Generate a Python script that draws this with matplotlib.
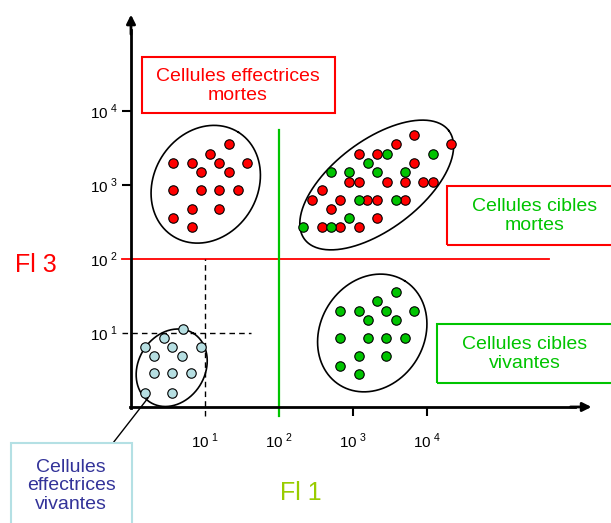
import numpy as np
import matplotlib
matplotlib.use('Agg')
import matplotlib.pyplot as plt
from matplotlib.patches import Rectangle

plt.rcParams['font.family'] = ['Liberation Sans', 'DejaVu Sans']
plt.rcParams['mathtext.fontset'] = 'custom'
plt.rcParams['mathtext.rm'] = 'Liberation Sans'

# --------------------------------------- DATA (log10 of Fl 1 / Fl 3) ---------------------------- #
# effectrices mortes (rouge, en haut a gauche)
eff_mortes_x = [1.32, 1.07, 0.57, 0.82, 1.19, 1.57, 0.95, 1.32, 0.57, 0.95, 1.19, 1.45, 0.82, 1.19, 0.57, 0.82]
eff_mortes_y = [3.55, 3.42, 3.30, 3.30, 3.30, 3.30, 3.18, 3.18, 2.93, 2.93, 2.93, 2.93, 2.68, 2.68, 2.56, 2.43]

# cibles vivantes (vert, en bas a droite)
cib_viv_x = [3.58, 3.33, 2.82, 3.08, 3.45, 3.83, 3.20, 3.58, 2.82, 3.20, 3.45, 3.70, 3.08, 3.45, 2.82, 3.08]
cib_viv_y = [1.55, 1.43, 1.30, 1.30, 1.30, 1.30, 1.18, 1.18, 0.93, 0.93, 0.93, 0.93, 0.69, 0.69, 0.56, 0.44]

# cibles mortes : melange rouge / vert (en haut a droite)
mix_red_x = [3.82, 4.33, 3.58, 3.08, 3.32, 3.82, 2.95, 3.08, 3.46, 3.70, 3.95, 4.08,
             2.58, 2.45, 2.82, 3.19, 3.33, 3.70, 2.70, 3.33, 2.58, 2.82, 3.08]
mix_red_y = [3.68, 3.55, 3.55, 3.42, 3.42, 3.30, 3.04, 3.04, 3.04, 3.04, 3.04, 3.04,
             2.93, 2.80, 2.80, 2.80, 2.80, 2.80, 2.68, 2.55, 2.43, 2.43, 2.43]
mix_green_x = [3.46, 4.08, 3.20, 2.70, 2.95, 3.33, 3.70, 3.08, 3.58, 2.95, 2.33, 2.70]
mix_green_y = [3.42, 3.42, 3.30, 3.17, 3.17, 3.17, 3.17, 2.80, 2.80, 2.55, 2.43, 2.43]

# effectrices vivantes (bleu clair, en bas a gauche)
eff_viv_x = [0.70, 0.44, 0.19, 0.56, 0.94, 0.31, 0.69, 0.31, 0.56, 0.81, 0.19, 0.56]
eff_viv_y = [1.06, 0.93, 0.81, 0.81, 0.81, 0.69, 0.69, 0.46, 0.46, 0.46, 0.19, 0.19]

tick_exp = [1, 2, 3, 4]
tick_labels = [r'$10^{\ %d}$' % e for e in tick_exp]

RED = '#ff0000'
GREEN = '#00c400'
LBLUE = '#b6dfe2'

# --------------------------------------- FIGURE ------------------------------------------------ #
W, H = 611, 523
fig = plt.figure(figsize=(W / 100, H / 100), dpi=100)
ax = fig.add_axes([0, 0, 1, 1])
ax.set_xscale('log')
ax.set_yscale('log')
ax.set_xlim(10 ** -1.77, 10 ** 6.486)
ax.set_ylim(10 ** -1.568, 10 ** 5.5)
ax.minorticks_off()


def px(x, y):
    # pixel position (from top left) -> figure fraction
    return x / W, 1 - y / H


def ellipse(cx, cy, a, b, ang):
    t = np.linspace(0, 2 * np.pi, 300)
    th = np.radians(ang)
    u = cx + a * np.cos(t) * np.cos(th) - b * np.sin(t) * np.sin(th)
    v = cy + a * np.cos(t) * np.sin(th) + b * np.sin(t) * np.cos(th)
    ax.plot(10 ** u, 10 ** v, color='black', lw=1.2, zorder=3)


# axes with arrows
for s in ['top', 'right']:
    ax.spines[s].set_visible(False)
ax.spines['left'].set_position(('data', 1))
ax.spines['bottom'].set_position(('data', 1))
ax.spines['left'].set_bounds(10 ** -0.015, 10 ** 5.1)
ax.spines['bottom'].set_bounds(10 ** -0.015, 10 ** 6.0)
ax.spines['left'].set_linewidth(2)
ax.spines['bottom'].set_linewidth(2)
ax.annotate('', xy=(1, 10 ** 5.34), xytext=(1, 10 ** 5.0),
            arrowprops=dict(arrowstyle='-|>', lw=2, color='black', mutation_scale=13))
ax.annotate('', xy=(10 ** 6.26, 1), xytext=(10 ** 5.9, 1),
            arrowprops=dict(arrowstyle='-|>', lw=2, color='black', mutation_scale=13))

ax.set_xticks([10.0 ** e for e in tick_exp])
ax.set_xticklabels(tick_labels)
ax.set_yticks([10.0 ** e for e in tick_exp])
ax.set_yticklabels(tick_labels)
ax.tick_params(axis='x', direction='out', length=6.5, width=1.5, pad=11, labelsize=11)
ax.tick_params(axis='y', direction='out', length=6.5, width=1.5, pad=3, labelsize=11)
for i in (0, 1):
    ax.xaxis.get_major_ticks()[i].tick1line.set_visible(False)
    ax.yaxis.get_major_ticks()[i].tick1line.set_visible(False)

# seuils
ax.plot([10 ** -0.12, 10 ** 5.65], [100, 100], color=RED, lw=1.3, zorder=2)
ax.plot([100, 100], [10 ** -0.12, 10 ** 3.74], color=GREEN, lw=1.6, zorder=2)
ax.plot([10 ** -0.12, 10 ** 1.62], [10, 10], color='black', lw=1, ls=(0, (4, 3)), zorder=2)
ax.plot([10, 10], [10 ** -0.12, 100], color='black', lw=1, ls=(0, (4, 3)), zorder=2)

# ellipses
ellipse(1.01, 3.01, 0.83, 0.70, 58)
ellipse(3.32, 3.00, 1.22, 0.60, 37)
ellipse(3.26, 1.00, 0.83, 0.70, 58)
ellipse(0.55, 0.53, 0.55, 0.45, 58)

mk = dict(ls='none', marker='o', ms=6.8, mec='black', mew=0.8, zorder=4)
ax.plot(10 ** np.array(eff_mortes_x), 10 ** np.array(eff_mortes_y), mfc=RED, **mk)
ax.plot(10 ** np.array(cib_viv_x), 10 ** np.array(cib_viv_y), mfc=GREEN, **mk)
ax.plot(10 ** np.array(mix_red_x), 10 ** np.array(mix_red_y), mfc=RED, **mk)
ax.plot(10 ** np.array(mix_green_x), 10 ** np.array(mix_green_y), mfc=GREEN, **mk)
ax.plot(10 ** np.array(eff_viv_x), 10 ** np.array(eff_viv_y), mfc=LBLUE, **mk)

# --------------------------------------- LABELS ------------------------------------------------ #
def box(x0, y0, x1, y1, edge):
    (fx0, fy1), (fx1, fy0) = px(x0, y0), px(x1, y1)
    fig.patches.append(Rectangle((fx0, fy0), fx1 - fx0, fy1 - fy0, transform=fig.transFigure,
                                 fill=False, ec=edge, lw=1.5, zorder=5))


def label(x, y, s, color, size=14):
    fig.text(*px(x, y), s, color=color, fontsize=size, ha='center', va='center',
             linespacing=1.15)


box(142, 57, 335, 113, RED)
label(238, 86, 'Cellules effectrices\nmortes', RED)
box(447, 186, 623, 245, RED)
label(535, 216, 'Cellules cibles\nmortes', GREEN)
box(437, 324, 613, 383, GREEN)
label(525, 354, 'Cellules cibles\nvivantes', GREEN)
box(11, 443, 132, 530, '#b4e0e4')
label(71, 486, 'Cellules\neffectrices\nvivantes', '#333399')

fig.lines.append(plt.Line2D([113 / W, 148 / W], [1 - 443 / H, 1 - 398 / H],
                            transform=fig.transFigure, color='black', lw=1))

label(36, 265, 'Fl 3', RED, size=18)
label(301, 493, 'Fl 1', '#99cc00', size=18)

fig.savefig('out.png', dpi=100)
